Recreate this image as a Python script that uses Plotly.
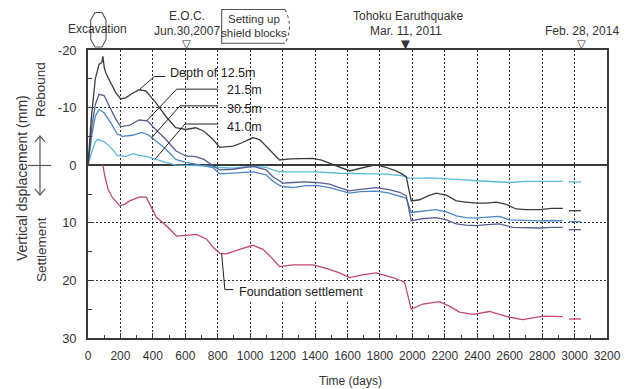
import numpy as np
import plotly.graph_objects as go

# Elapsed time since start of excavation (days) and vertical displacement (mm);
# negative values are rebound (heave), positive values are settlement.
d125_days = [0, 20, 45, 68, 85, 92, 100, 110, 140, 171, 202, 232, 270, 315, 356, 417, 479, 541,
             602, 664, 715, 770, 812, 894, 950, 1017, 1060, 1099, 1140, 1181, 1250, 1320, 1387,
             1440, 1489, 1531, 1613, 1700, 1777, 1840, 1901, 1940, 1962, 1993, 2044, 2100, 2147,
             2209, 2271, 2330, 2394, 2455, 2517, 2579, 2640, 2700, 2784, 2860, 2928]
d125_mm = [0, -8, -15, -17.5, -17.8, -18.9, -17.0, -16.0, -14.3, -12.6, -11.5, -11.7, -12.4, -13.1,
           -12.9, -10.9, -8.5, -6.5, -6.2, -6.5, -5.9, -4.5, -3.1, -3.3, -3.9, -4.8, -4.4, -3.3,
           -2.0, -0.9, -1.1, -1.2, -1.2, -0.9, -0.4, 0.1, 1.0, 0.4, -0.1, 0.4, 1.0, 1.6, 2.0, 6.2,
           6.0, 5.3, 4.85, 5.2, 6.2, 6.4, 6.6, 6.6, 6.4, 6.8, 7.6, 7.7, 7.7, 7.5, 7.5]

d215_days = [0, 25, 45, 68, 99, 130, 171, 202, 253, 315, 366, 417, 479, 541, 602, 664, 715, 770,
             812, 894, 960, 1017, 1058, 1099, 1140, 1181, 1202, 1264, 1330, 1408, 1489, 1550, 1613,
             1680, 1736, 1777, 1850, 1921, 1962, 1993, 2060, 2147, 2210, 2271, 2330, 2394, 2460,
             2537, 2620, 2700, 2784, 2860, 2928]
d215_mm = [0, -7.0, -10.5, -12.3, -12.1, -10.3, -8.0, -6.7, -6.9, -7.85, -7.7, -6.2, -4.5, -2.5,
           -1.6, -1.5, -1.0, 0.1, 0.8, 0.7, 0.4, 0.2, 0.5, 0.8, 2.0, 2.7, 3.1, 3.0, 2.9, 3.0, 3.3,
           3.9, 4.45, 4.2, 4.0, 3.9, 4.2, 4.7, 5.3, 9.65, 9.3, 9.1, 9.5, 10.2, 10.4, 10.5, 10.3,
           10.2, 10.8, 10.9, 10.9, 10.8, 10.8]

d305_days = [0, 25, 45, 68, 99, 140, 181, 212, 273, 335, 376, 417, 479, 541, 602, 664, 730, 770,
             812, 894, 960, 1017, 1058, 1099, 1140, 1181, 1202, 1264, 1330, 1408, 1489, 1550, 1613,
             1680, 1736, 1777, 1850, 1921, 1962, 1993, 2060, 2147, 2210, 2271, 2330, 2394, 2460,
             2537, 2599, 2700, 2784, 2860, 2928]
d305_mm = [0, -5.5, -8.5, -9.7, -9.1, -7.4, -5.4, -5.0, -5.2, -5.7, -5.2, -4.2, -2.8, -1.0, -0.5,
           -0.2, 0.1, 0.4, 1.5, 1.4, 1.3, 1.15, 1.4, 1.7, 2.8, 3.5, 3.7, 3.9, 3.6, 3.5, 3.9, 4.4,
           4.85, 4.6, 4.5, 4.5, 4.8, 5.3, 5.7, 8.2, 8.0, 7.7, 8.1, 8.8, 9.1, 9.2, 9.0, 8.9, 9.5,
           9.6, 9.65, 9.6, 9.65]

d410_days = [0, 25, 45, 58, 99, 140, 181, 232, 278, 315, 366, 417, 479, 541, 627, 730, 812, 894,
             960, 1017, 1058, 1099, 1140, 1181, 1300, 1408, 1551, 1633, 1750, 1839, 1941, 1975,
             2003, 2100, 2200, 2300, 2394, 2500, 2599, 2700, 2800, 2928]
d410_mm = [0, -2.5, -4.0, -4.5, -4.1, -3.1, -1.7, -1.5, -2.0, -1.7, -1.5, -1.0, -0.5, 0.0, 0.0,
           0.1, 0.4, 0.5, 0.3, 0.2, 0.3, 0.4, 0.8, 1.15, 1.15, 1.15, 1.4, 1.4, 1.5, 1.56, 1.85,
           2.2, 2.3, 2.2, 2.3, 2.5, 2.7, 2.9, 3.0, 2.8, 2.8, 2.8]

fdn_days = [92, 103, 124, 150, 196, 226, 257, 319, 360, 421, 483, 545, 606, 668, 730, 770, 812,
            853, 935, 1017, 1079, 1130, 1181, 1264, 1387, 1469, 1551, 1613, 1700, 1777, 1880,
            1952, 1993, 2065, 2168, 2230, 2291, 2373, 2476, 2599, 2681, 2804, 2928]
fdn_mm = [0, 1.85, 4.2, 5.6, 7.05, 6.8, 6.2, 5.5, 5.6, 9.0, 10.5, 12.3, 12.2, 12.0, 12.8, 14.2,
          15.3, 15.4, 14.6, 13.9, 14.6, 16.0, 17.6, 17.3, 17.3, 17.9, 18.7, 19.5, 19.0, 18.7,
          19.5, 20.3, 25.0, 24.1, 23.7, 24.5, 25.5, 25.9, 25.4, 26.4, 26.8, 26.2, 26.3]

# Final survey (Feb. 28, 2014), drawn as a short separate dash
final_days = [2965, 3040]
final_mm = {"12.5": 7.9, "21.5": 11.2, "30.5": 9.8, "41.0": 2.9, "fdn": 26.7}

# Milestones on the time axis
event_days = [610, 1960, 3045]
event_marks = ["\u25bd", "\u25bc", "\u25bd"]

x_range = [0, 3200]
y_range = [30, -20]
y_ticks = [-20, -10, 0, 10, 20, 30]
y_tick_text = ["-20", "-10", "0", "10", "20", "30"]

W, H = 633, 389
ML, MR, MT, MB = 88, 26, 50, 51
FONT = "Liberation Sans, Arial, sans-serif"
INK = "#333333"
FRAME = "#3a3a3a"


def px(x):
    return (x - ML) / (W - ML - MR)


def py(y):
    return (H - MB - y) / (H - MT - MB)


def ppath(points, close=False):
    s = "M " + " L ".join(f"{px(a):.4f},{py(b):.4f}" for a, b in points)
    return s + (" Z" if close else "")


series = [
    ("fdn", fdn_days, fdn_mm, "#c4476e"),
    ("41.0", d410_days, d410_mm, "#58b9de"),
    ("30.5", d305_days, d305_mm, "#4a86c5"),
    ("21.5", d215_days, d215_mm, "#575e95"),
    ("12.5", d125_days, d125_mm, "#3c3c3c"),
]

fig = go.Figure()
for i, (key, dx, dy, col) in enumerate(series):
    xs = list(dx) + [None] + final_days
    ys = list(dy) + [None] + [final_mm[key]] * 2
    # the foundation curve sits on the overlay axes that carry the minor ticks
    axes = dict(xaxis="x2", yaxis="y2") if i == 0 else {}
    fig.add_trace(go.Scatter(x=xs, y=ys, mode="lines", line=dict(color=col, width=1.3),
                             connectgaps=False, showlegend=False, hoverinfo="skip", **axes))

shapes = []
annotations = []


def interp(days, vals, d):
    return float(np.interp(d, days, vals))


# Milestone triangles just above the frame
for d, mark in zip(event_days, event_marks):
    annotations.append(dict(x=d, y=py(44), xref="x", yref="paper", text=mark,
                            showarrow=False, xanchor="center", yanchor="middle",
                            font=dict(family="DejaVu Sans", size=11.5, color=INK)))

# Leader lines from the depth labels to their curves
leaders = [
    ("Depth of 12.5m", d125_days, d125_mm, 316, (409, -15.4), (475, -15.4), (493, -15.95)),
    ("21.5m", d215_days, d215_mm, 362, (547, -13.2), (803, -13.2), (845, -13.05)),
    ("30.5m", d305_days, d305_mm, 393, (567, -10.3), (803, -10.3), (845, -9.7)),
    ("41.0m", d410_days, d410_mm, 413, (598, -7.15), (803, -7.15), (845, -6.6)),
]
for text, dx, dy, d0, elbow, end, tpos in leaders:
    y0 = interp(dx, dy, d0)
    shapes.append(dict(type="path", xref="x", yref="y",
                       path=f"M {d0},{y0} L {elbow[0]},{elbow[1]} L {end[0]},{end[1]}",
                       line=dict(color="#222", width=1)))
    annotations.append(dict(x=tpos[0], y=tpos[1], xref="x", yref="y", text=text,
                            showarrow=False, xanchor="left", yanchor="middle",
                            font=dict(family=FONT, size=12.5, color="#222")))

f0 = 824
fy0 = interp(fdn_days, fdn_mm, f0)
shapes.append(dict(type="path", xref="x", yref="y",
                   path=f"M {f0},{fy0} L 844,21.6 L 896,21.6",
                   line=dict(color="#222", width=1)))
annotations.append(dict(x=910, y=21.96, xref="x", yref="y", text="Foundation settlement",
                        showarrow=False, xanchor="left", yanchor="middle", bgcolor="white",
                        borderpad=2, font=dict(family=FONT, size=12.5, color="#222")))

# Milestone captions above the plot
for text, d, ypix in [("E.O.C.", event_days[0], 16), ("Jun.30,2007", event_days[0], 30.5),
                      ("Tohoku Earuthquake", event_days[1] + 10, 16),
                      ("Mar. 11, 2011", event_days[1], 30.5),
                      ("Feb. 28, 2014", event_days[2], 30.5)]:
    annotations.append(dict(x=d, y=py(ypix), xref="x", yref="paper", text=text,
                            showarrow=False, xanchor="center", yanchor="middle",
                            font=dict(family=FONT, size=12, color=INK)))

annotations.append(dict(x=px(97.5), y=py(29), xref="paper", yref="paper", text="Excavation",
                        showarrow=False, xanchor="center", yanchor="middle",
                        font=dict(family=FONT, size=12, color=INK)))
annotations.append(dict(x=px(253.5), y=py(18.5), xref="paper", yref="paper", text="Setting up",
                        showarrow=False, xanchor="center", yanchor="middle",
                        font=dict(family=FONT, size=11.5, color=INK)))
annotations.append(dict(x=px(253.5), y=py(33.5), xref="paper", yref="paper", text="shield blocks",
                        showarrow=False, xanchor="center", yanchor="middle",
                        font=dict(family=FONT, size=11.5, color=INK)))

# Excavation period capsule
shapes.append(dict(type="path", xref="paper", yref="paper",
                   path=ppath([(95, 12.5), (102, 12.5), (106, 20), (106, 39.5), (102, 47),
                               (95, 47), (90.7, 39.5), (90.7, 20)], close=True),
                   line=dict(color="#555", width=1.1)))
# Shield block box, with a dashed open end
shapes.append(dict(type="path", xref="paper", yref="paper",
                   path=ppath([(285, 9.5), (221.7, 9.5), (221.7, 43.3), (285, 43.3)]),
                   line=dict(color="#555", width=1.1)))
shapes.append(dict(type="path", xref="paper", yref="paper",
                   path=f"M {px(285):.4f},{py(9.5):.4f} Q {px(294):.4f},{py(26.4):.4f} "
                        f"{px(285):.4f},{py(43.3):.4f}",
                   line=dict(color="#555", width=1.1, dash="dot")))

# Y-axis title block: main title, Rebound / Settlement and the double arrow
annotations.append(dict(x=px(22), y=py(178), xref="paper", yref="paper",
                        text="Vertical dsplacement (mm)", textangle=-90, showarrow=False,
                        xanchor="center", yanchor="middle",
                        font=dict(family=FONT, size=14, color=INK)))
annotations.append(dict(x=px(41), y=py(90), xref="paper", yref="paper", text="Rebound",
                        textangle=-90, showarrow=False, xanchor="center", yanchor="middle",
                        font=dict(family=FONT, size=13.5, color=INK)))
annotations.append(dict(x=px(41), y=py(250), xref="paper", yref="paper", text="Settlement",
                        textangle=-90, showarrow=False, xanchor="center", yanchor="middle",
                        font=dict(family=FONT, size=13.5, color=INK)))
for pts in [[(40, 136), (40, 195)], [(35, 142), (40, 136), (45, 142)],
            [(35, 189), (40, 195), (45, 189)], [(28, 165.5), (51, 165.5)]]:
    shapes.append(dict(type="path", xref="paper", yref="paper", path=ppath(pts),
                       line=dict(color="#555", width=1.2)))

annotations.append(dict(x=px(350), y=py(381), xref="paper", yref="paper", text="Time (days)",
                        showarrow=False, xanchor="center", yanchor="middle",
                        font=dict(family=FONT, size=12, color=INK)))

grid = dict(showgrid=True, gridcolor="#2e2e2e", gridwidth=1, griddash="2px,2px")
frame = dict(showline=True, mirror=True, linecolor=FRAME, linewidth=1.6,
             ticks="inside", ticklen=5, tickcolor=FRAME, tickwidth=1)
minor_ticks = dict(showgrid=False, zeroline=False, showline=False, showticklabels=False,
                   ticks="inside", tickcolor=FRAME, tickwidth=1)

fig.update_layout(
    width=W, height=H, margin=dict(l=ML, r=MR, t=MT, b=MB),
    paper_bgcolor="white", plot_bgcolor="white", showlegend=False,
    font=dict(family=FONT, color=INK),
    xaxis=dict(range=x_range, tickmode="linear", tick0=0, dtick=200, zeroline=False,
               tickfont=dict(family=FONT, size=12, color=INK), ticklabelstandoff=6,
               **grid, **frame),
    yaxis=dict(range=y_range, tickmode="array", tickvals=y_ticks, ticktext=y_tick_text,
               zeroline=True, zerolinecolor="#3a3a3a", zerolinewidth=2,
               tickfont=dict(family=FONT, size=13, color=INK), ticklabelstandoff=7,
               **grid, **frame),
    # overlay axes carrying the minor ticks (every 100 days / every 5 mm)
    xaxis2=dict(range=x_range, overlaying="x", side="bottom", anchor="y2",
                tickmode="linear", tick0=0, dtick=100, ticklen=3, **minor_ticks),
    yaxis2=dict(range=y_range, overlaying="y", side="left", anchor="x2",
                tickmode="linear", tick0=0, dtick=5, ticklen=4, **minor_ticks),
    shapes=shapes, annotations=annotations,
)

fig.write_html("out.html")
